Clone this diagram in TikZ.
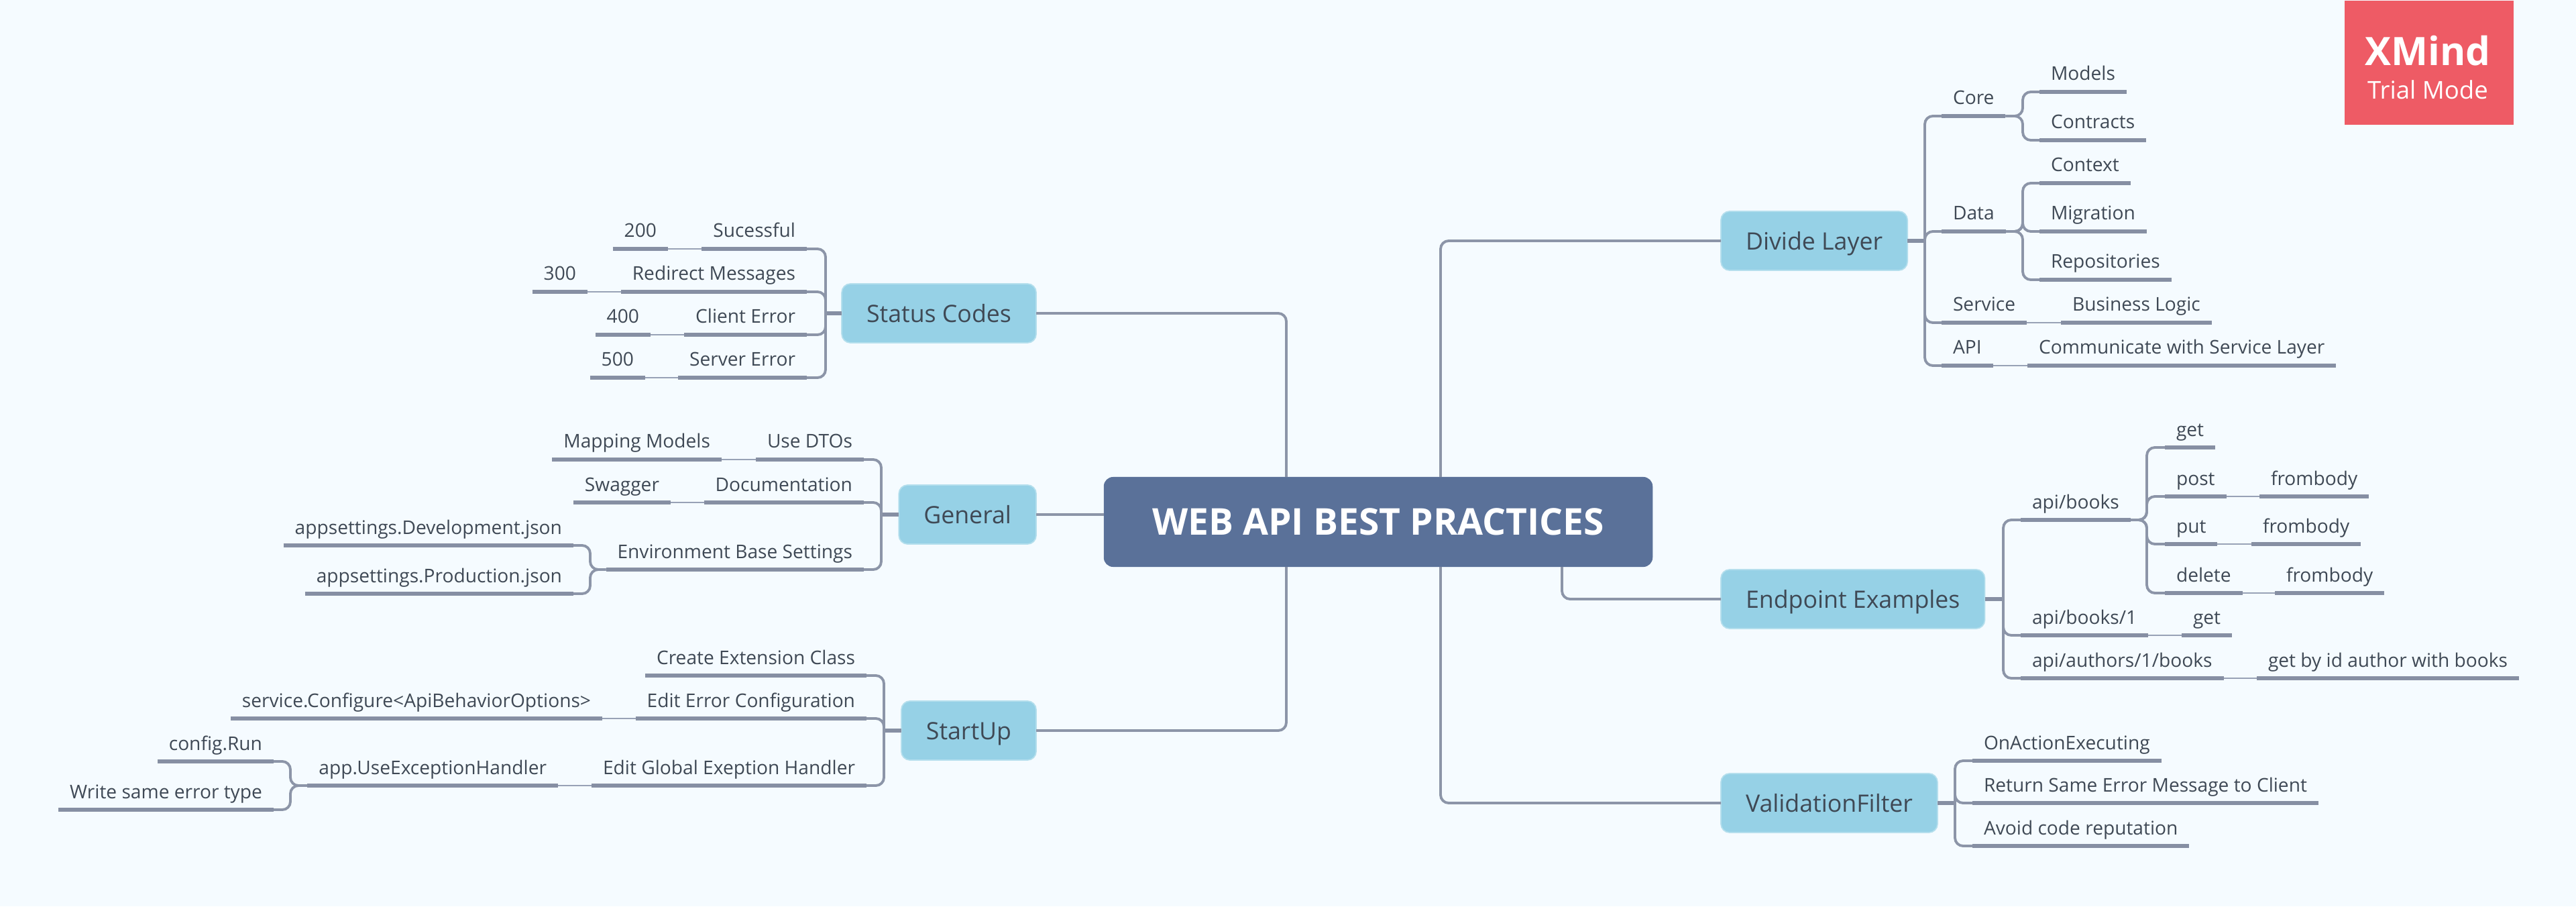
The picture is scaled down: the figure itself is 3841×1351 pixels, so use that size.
\documentclass[tikz,border=0pt]{standalone}
\usepackage{fontspec}
\setmainfont{Open Sans}
\definecolor{pagebg}{HTML}{F5FBFF}
\definecolor{inkgray}{HTML}{3F4955}
\definecolor{linegray}{HTML}{868FA3}
\definecolor{linklight}{HTML}{98A2B6}
\definecolor{topicblue}{HTML}{96D1E6}
\definecolor{rootblue}{HTML}{5A7199}
\definecolor{trialred}{HTML}{EE5B65}
\tikzset{
	leaf/.style={inner xsep=0.17cm,inner ysep=0pt,outer sep=0pt,text height=0.30cm,text depth=0.17cm,text=inkgray,font=\fontsize{8}{10}\selectfont},
	topic/.style={fill=topicblue,draw=topicblue!70!white,line width=0.5pt,rounded corners=0.13cm,inner xsep=0.37cm,inner ysep=0pt,outer sep=0pt,minimum height=0.88cm,text height=0.26cm,text depth=0pt,text=inkgray,font=\fontsize{10.15}{12}\selectfont},
	root/.style={fill=rootblue,rounded corners=0.14cm,minimum width=8.18cm,minimum height=1.34cm,inner sep=0pt,outer sep=0pt,text height=0.39cm,text depth=0pt,text=white,font=\fontsize{15.65}{20}\selectfont\bfseries},
	underline/.style={linegray,line width=1.45pt},
	link/.style={linegray!95!white,line width=1.1pt,rounded corners=0.12cm},
	stem/.style={linegray,line width=1.6pt},
	joint/.style={linklight,line width=0.8pt},
}

\begin{document}
\begin{tikzpicture}[x=0.01cm,y=-0.01cm]
	\fill[pagebg] (0,0) rectangle (3841,1351);
	\useasboundingbox (0,0) rectangle (3841,1351);
	% the trial mark in the corner
	\node[fill=trialred,anchor=north west,minimum width=2.52cm,minimum height=1.85cm,inner sep=0pt] (trialbox) at (3495,0) {};
	\node[anchor=base,inner sep=0pt,text=white,font=\fontsize{16.6}{20}\selectfont\bfseries] (trialname) at (3620,97) {XMind};
	\node[anchor=base,inner sep=0pt,text=white,font=\fontsize{10.4}{12}\selectfont] (trialmode) at (3620,147) {Trial Mode};
	% centre and main topics
	\node[root] (root) at (2055,778) {WEB API BEST PRACTICES};
	\node[topic,anchor=west] (divide) at (2566,359) {Divide Layer};
	\node[topic,anchor=west] (endpoint) at (2566,893) {Endpoint Examples};
	\node[topic,anchor=west] (validation) at (2566,1197) {ValidationFilter};
	\node[topic,anchor=east] (status) at (1545,467) {Status Codes};
	\node[topic,anchor=east] (general) at (1545,767) {General};
	\node[topic,anchor=east] (startup) at (1545,1089) {StartUp};
	% right side: divide layer
	\node[leaf,anchor=south west] (core) at (2895,173) {Core};
	\node[leaf,anchor=south west] (data) at (2895,345) {Data};
	\node[leaf,anchor=south west] (service) at (2895,481) {Service};
	\node[leaf,anchor=south west] (api) at (2895,545) {API};
	\node[leaf,anchor=south west] (models) at (3041,137) {Models};
	\node[leaf,anchor=south west] (contracts) at (3041,209) {Contracts};
	\node[leaf,anchor=south west] (context) at (3041,273) {Context};
	\node[leaf,anchor=south west] (migration) at (3041,345) {Migration};
	\node[leaf,anchor=south west] (repositories) at (3041,417) {Repositories};
	\node[leaf,anchor=south west] (business) at (3073,481) {Business Logic};
	\node[leaf,anchor=south west] (communicate) at (3023,545) {Communicate with Service Layer};
	% right side: endpoint examples
	\node[leaf,anchor=south west] (books) at (3013,775) {api/books};
	\node[leaf,anchor=south west] (bookone) at (3013,947) {api/books/1};
	\node[leaf,anchor=south west] (authors) at (3013,1011) {api/authors/1/books};
	\node[leaf,anchor=south west] (get) at (3228,667) {get};
	\node[leaf,anchor=south west] (post) at (3228,740) {post};
	\node[leaf,anchor=south west] (put) at (3228,811) {put};
	\node[leaf,anchor=south west] (delete) at (3228,884) {delete};
	\node[leaf,anchor=south west] (postbody) at (3369,740) {frombody};
	\node[leaf,anchor=south west] (putbody) at (3357,811) {frombody};
	\node[leaf,anchor=south west] (deletebody) at (3392,884) {frombody};
	\node[leaf,anchor=south west] (getone) at (3253,947) {get};
	\node[leaf,anchor=south west] (getauthor) at (3365,1011) {get by id author with books};
	% right side: validation filter
	\node[leaf,anchor=south west] (onaction) at (2941,1134) {OnActionExecuting};
	\node[leaf,anchor=south west] (sameerror) at (2941,1197) {Return Same Error Message to Client};
	\node[leaf,anchor=south west] (avoid) at (2941,1261) {Avoid code reputation};
	% left side: status codes
	\node[leaf,anchor=south east] (sucessful) at (1203,371) {Sucessful};
	\node[leaf,anchor=south east] (redirect) at (1203,435) {Redirect Messages};
	\node[leaf,anchor=south east] (clienterr) at (1203,499) {Client Error};
	\node[leaf,anchor=south east] (servererr) at (1203,563) {Server Error};
	\node[leaf,anchor=south east] (codetwo) at (996,371) {200};
	\node[leaf,anchor=south east] (codethree) at (876,435) {300};
	\node[leaf,anchor=south east] (codefour) at (970,499) {400};
	\node[leaf,anchor=south east] (codefive) at (962,563) {500};
	% left side: general
	\node[leaf,anchor=south east] (dtos) at (1288,685) {Use DTOs};
	\node[leaf,anchor=south east] (mapping) at (1076,685) {Mapping Models};
	\node[leaf,anchor=south east] (docs) at (1288,749) {Documentation};
	\node[leaf,anchor=south east] (swagger) at (1000,749) {Swagger};
	\node[leaf,anchor=south east] (envbase) at (1288,849) {Environment Base Settings};
	\node[leaf,anchor=south east] (devjson) at (855,813) {appsettings.Development.json};
	\node[leaf,anchor=south east] (prodjson) at (855,885) {appsettings.Production.json};
	% left side: startup
	\node[leaf,anchor=south east] (extension) at (1292,1007) {Create Extension Class};
	\node[leaf,anchor=south east] (editerror) at (1292,1071) {Edit Error Configuration};
	\node[leaf,anchor=south east] (configure) at (898,1071) {service.Configure<ApiBehaviorOptions>};
	\node[leaf,anchor=south east] (editglobal) at (1292,1171) {Edit Global Exeption Handler};
	\node[leaf,anchor=south east] (usehandler) at (832,1171) {app.UseExceptionHandler};
	\node[leaf,anchor=south east] (configrun) at (408,1135) {config.Run};
	\node[leaf,anchor=south east] (writesame) at (408,1207) {Write same error type};
	% the rule under every leaf
	\foreach \n in {core,data,service,api,models,contracts,context,migration,repositories,business,communicate,
		books,bookone,authors,get,post,put,delete,postbody,putbody,deletebody,getone,getauthor,onaction,sameerror,avoid,
		sucessful,redirect,clienterr,servererr,codetwo,codethree,codefour,codefive,dtos,mapping,docs,swagger,envbase,
		devjson,prodjson,extension,editerror,configure,editglobal,usehandler,configrun,writesame}
		\draw[underline] (\n.south west) -- (\n.south east);
	% where the vertical runs sit
	\coordinate (dividetrunk) at (2870,359);
	\coordinate (coretrunk) at (3016,173);
	\coordinate (datatrunk) at (3016,345);
	\coordinate (endpointtrunk) at (2987,893);
	\coordinate (bookstrunk) at (3201,775);
	\coordinate (validationtrunk) at (2915,1197);
	\coordinate (statustrunk) at (1231,467);
	\coordinate (generaltrunk) at (1314,767);
	\coordinate (envtrunk) at (880,849);
	\coordinate (startuptrunk) at (1318,1089);
	\coordinate (handlertrunk) at (433,1171);
	\coordinate (rootnorthright) at (2148,711);
	\coordinate (rootsouthright) at (2148,845);
	\coordinate (rootexample) at (2329,845);
	\coordinate (rootnorthleft) at (1918,711);
	\coordinate (rootsouthleft) at (1918,845);
	% from the centre to the main topics
	\draw[link] (rootnorthright) |- (divide.west);
	\draw[link] (rootsouthright) |- (validation.west);
	\draw[link] (rootexample) |- (endpoint.west);
	\draw[link] (rootnorthleft) |- (status.east);
	\draw[link] (rootsouthleft) |- (startup.east);
	\draw[link] (root.west |- general.east) -- (general.east);
	% from the topics to their leaves
	\draw[stem] (divide.east) -- (dividetrunk);
	\foreach \n in {core,data,service,api}
		\draw[link] (dividetrunk) |- (\n.south west);
	\foreach \n in {models,contracts}
		\draw[link] (core.south east) -- (coretrunk) |- (\n.south west);
	\foreach \n in {context,migration,repositories}
		\draw[link] (data.south east) -- (datatrunk) |- (\n.south west);
	\draw[stem] (endpoint.east) -- (endpointtrunk);
	\foreach \n in {books,bookone,authors}
		\draw[link] (endpointtrunk) |- (\n.south west);
	\foreach \n in {get,post,put,delete}
		\draw[link] (books.south east) -- (bookstrunk) |- (\n.south west);
	\draw[stem] (validation.east) -- (validationtrunk);
	\foreach \n in {onaction,sameerror,avoid}
		\draw[link] (validationtrunk) |- (\n.south west);
	\draw[stem] (status.west) -- (statustrunk);
	\foreach \n in {sucessful,redirect,clienterr,servererr}
		\draw[link] (statustrunk) |- (\n.south east);
	\draw[stem] (general.west) -- (generaltrunk);
	\foreach \n in {dtos,docs,envbase}
		\draw[link] (generaltrunk) |- (\n.south east);
	\foreach \n in {devjson,prodjson}
		\draw[link] (envbase.south west) -- (envtrunk) |- (\n.south east);
	\draw[stem] (startup.west) -- (startuptrunk);
	\foreach \n in {extension,editerror,editglobal}
		\draw[link] (startuptrunk) |- (\n.south east);
	\foreach \n in {configrun,writesame}
		\draw[link] (usehandler.south west) -- (handlertrunk) |- (\n.south east);
	% thin joints between a leaf and the one that follows it
	\draw[joint] (service.south east) -- (business.south west);
	\draw[joint] (api.south east) -- (communicate.south west);
	\draw[joint] (post.south east) -- (postbody.south west);
	\draw[joint] (put.south east) -- (putbody.south west);
	\draw[joint] (delete.south east) -- (deletebody.south west);
	\draw[joint] (bookone.south east) -- (getone.south west);
	\draw[joint] (authors.south east) -- (getauthor.south west);
	\draw[joint] (sucessful.south west) -- (codetwo.south east);
	\draw[joint] (redirect.south west) -- (codethree.south east);
	\draw[joint] (clienterr.south west) -- (codefour.south east);
	\draw[joint] (servererr.south west) -- (codefive.south east);
	\draw[joint] (dtos.south west) -- (mapping.south east);
	\draw[joint] (docs.south west) -- (swagger.south east);
	\draw[joint] (editerror.south west) -- (configure.south east);
	\draw[joint] (editglobal.south west) -- (usehandler.south east);
\end{tikzpicture}
\end{document}
